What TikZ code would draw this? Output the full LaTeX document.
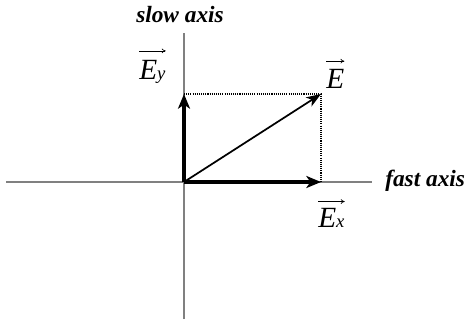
\documentclass[tikz,border=0pt]{standalone}
\usepackage{fontspec}
\setmainfont{Liberation Serif}
\newfontfamily\tms{Liberation Serif}
\usetikzlibrary{arrows.meta}
\tikzset{
  axisline/.style={draw=black!50, line width=0.8pt},
  comp/.style={line width=2.6pt, -{Stealth[length=11pt,width=9pt,inset=3pt]}},
  resul/.style={line width=1.3pt, -{Stealth[length=11pt,width=8pt,inset=3pt]}},
  proj/.style={line width=0.8pt, dash pattern=on 0.8pt off 0.8pt},
  lbl/.style={inner sep=0pt, font=\tms\fontsize{22}{22}\selectfont\itshape},
  axlbl/.style={inner sep=0pt, font=\tms\fontsize{17.5}{17.5}\selectfont\bfseries\itshape},
  ovarrow/.style={line width=0.5pt, -{To[length=3pt,width=3.5pt]}}
}
\newcommand\subsz{\fontsize{14}{14}\selectfont}
\begin{document}
\begin{tikzpicture}[x=0.75pt,y=-0.75pt]
\useasboundingbox (0,0) rectangle (467,322);
% points
\coordinate (O) at (184,182);
\coordinate (axL) at (6,182);
\coordinate (axR) at (372,182);
\coordinate (axT) at (184,33);
\coordinate (axB) at (184,319);
\coordinate (X) at (321,182);
\coordinate (Y) at (184,94);
\coordinate (P) at (321,94);
% axes
\draw[axisline] (axL) -- (axR);
\draw[axisline] (axB) -- (axT);
% projections
\draw[proj] (Y) -- (P) -- (X);
% vectors
\draw[comp] (O) -- (X);
\draw[comp] (O) -- (Y);
\draw[resul] (O) -- (P);
% labels
\node[axlbl, anchor=base west] (slow) at (136,22) {slow axis};
\node[axlbl, anchor=base west] (fast) at (385,186) {fast axis};
\node[lbl, anchor=base west] (lEy) at (139,79) {E{\subsz y}};
\node[lbl, anchor=base west] (lE) at (326,88) {E};
\node[lbl, anchor=base west] (lEx) at (318,227) {E{\subsz x}};
\draw[ovarrow] ([yshift=6.5pt]lEy.north west) -- ([yshift=6.5pt]lEy.north east);
\draw[ovarrow] ([yshift=5.5pt]lE.north west) -- ([yshift=5.5pt]lE.north east);
\draw[ovarrow] ([yshift=4.5pt]lEx.north west) -- ([yshift=4.5pt]lEx.north east);
\end{tikzpicture}
\end{document}
